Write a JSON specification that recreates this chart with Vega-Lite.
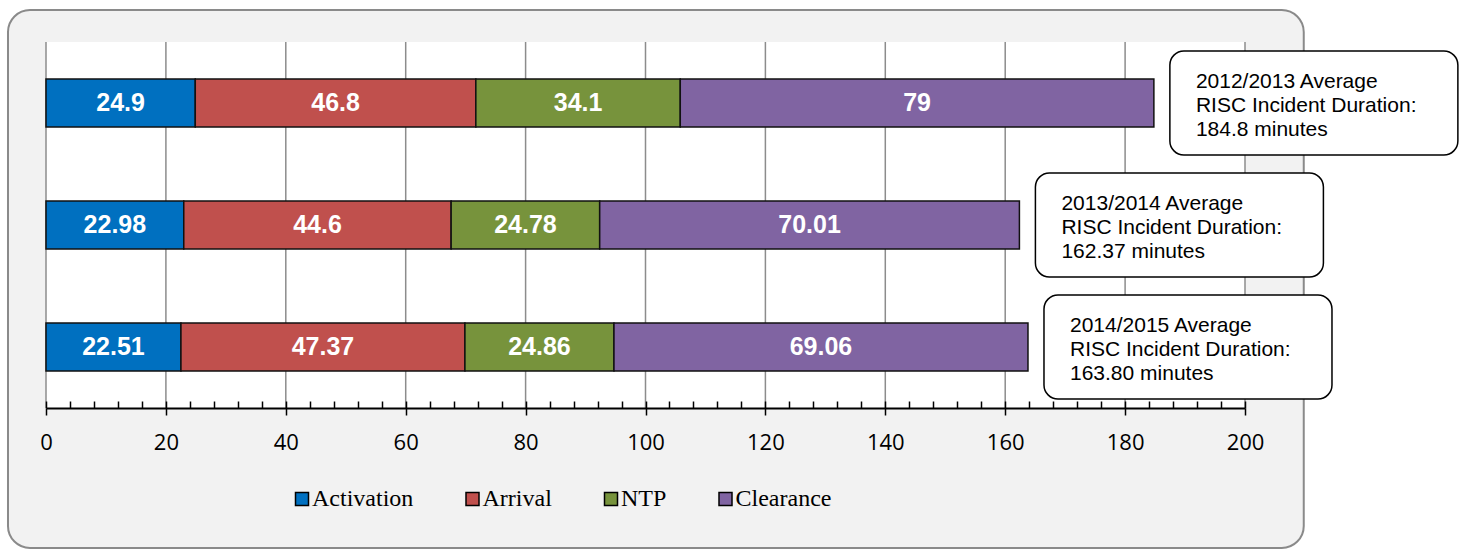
{
  "$schema": "https://vega.github.io/schema/vega-lite/v6.json",
  "width": 1199,
  "height": 366,
  "autosize": {"type": "none"},
  "padding": {"left": 46, "top": 42, "right": 215, "bottom": 142},
  "background": "white",
  "config": {"view": {"stroke": null}},
  "datasets": {
    "segments": [
      {"period": "2012/2013", "phase": "Activation", "step": 1, "value": 24.9},
      {"period": "2012/2013", "phase": "Arrival", "step": 2, "value": 46.8},
      {"period": "2012/2013", "phase": "NTP", "step": 3, "value": 34.1},
      {"period": "2012/2013", "phase": "Clearance", "step": 4, "value": 79},
      {"period": "2013/2014", "phase": "Activation", "step": 1, "value": 22.98},
      {"period": "2013/2014", "phase": "Arrival", "step": 2, "value": 44.6},
      {"period": "2013/2014", "phase": "NTP", "step": 3, "value": 24.78},
      {"period": "2013/2014", "phase": "Clearance", "step": 4, "value": 70.01},
      {"period": "2014/2015", "phase": "Activation", "step": 1, "value": 22.51},
      {"period": "2014/2015", "phase": "Arrival", "step": 2, "value": 47.37},
      {"period": "2014/2015", "phase": "NTP", "step": 3, "value": 24.86},
      {"period": "2014/2015", "phase": "Clearance", "step": 4, "value": 69.06}
    ],
    "totals": [
      {"period": "2012/2013", "total": 184.8, "label": ["2012/2013 Average", "RISC Incident Duration:", "184.8 minutes"]},
      {"period": "2013/2014", "total": 162.37, "label": ["2013/2014 Average", "RISC Incident Duration:", "162.37 minutes"]},
      {"period": "2014/2015", "total": 163.8, "label": ["2014/2015 Average", "RISC Incident Duration:", "163.80 minutes"]}
    ],
    "grid": [
      {"v": 0}, {"v": 20}, {"v": 40}, {"v": 60}, {"v": 80}, {"v": 100},
      {"v": 120}, {"v": 140}, {"v": 160}, {"v": 180}, {"v": 200}
    ]
  },
  "resolve": {"scale": {"y": "independent"}, "axis": {"x": "independent"}},
  "layer": [
    {
      "data": {"values": [{}]},
      "mark": {"type": "rect", "fill": "#f2f2f2", "stroke": "#8a8a8a", "strokeWidth": 2, "cornerRadius": 22},
      "encoding": {
        "x": {"datum": -6.34, "type": "quantitative", "axis": null, "scale": {"domain": [0, 200], "nice": false}},
        "x2": {"datum": 209.8},
        "y": {"datum": 1.0874, "type": "quantitative", "axis": null, "scale": {"domain": [0, 1], "nice": false, "zero": false}},
        "y2": {"datum": -0.3825}
      }
    },
    {
      "data": {"values": [{}]},
      "mark": {"type": "rect", "fill": "white"},
      "encoding": {
        "x": {"datum": 0, "type": "quantitative", "axis": null},
        "x2": {"datum": 200}
      }
    },
    {
      "data": {"name": "grid"},
      "mark": {"type": "rule", "color": "#8c8c8c", "strokeWidth": 1.5},
      "encoding": {
        "x": {
          "field": "v", "type": "quantitative",
          "axis": {
            "orient": "bottom", "offset": -7, "domain": false, "labels": false, "grid": false, "title": null,
            "values": [0,4,8,12,16,20,24,28,32,36,40,44,48,52,56,60,64,68,72,76,80,84,88,92,96,100,104,108,112,116,120,124,128,132,136,140,144,148,152,156,160,164,168,172,176,180,184,188,192,196,200],
            "ticks": true, "tickSize": 7, "tickColor": "black", "tickWidth": 1.5, "zindex": 1
          }
        }
      }
    },
    {
      "data": {"name": "segments"},
      "mark": {"type": "bar", "stroke": "#111111", "strokeWidth": 1.5},
      "encoding": {
        "y": {"field": "period", "type": "nominal", "sort": null, "axis": null, "scale": {"paddingInner": 0.607, "paddingOuter": 0.3035}},
        "x": {
          "field": "value", "type": "quantitative", "stack": "zero",
          "scale": {"domain": [0, 200], "nice": false},
          "axis": {
            "orient": "bottom", "title": null, "grid": false,
            "values": [0, 20, 40, 60, 80, 100, 120, 140, 160, 180, 200],
            "domain": true, "domainColor": "black", "domainWidth": 2,
            "ticks": true, "tickColor": "black", "tickWidth": 1.5, "tickSize": 7,
            "labelFont": "Open Sans", "labelFontSize": 22, "labelColor": "black", "labelPadding": 17,
            "labelFlush": false, "labelOverlap": false,
            "zindex": 1
          }
        },
        "color": {
          "field": "phase", "type": "nominal",
          "sort": ["Activation", "Arrival", "NTP", "Clearance"],
          "scale": {"domain": ["Activation", "Arrival", "NTP", "Clearance"], "range": ["#0070C0", "#C0504D", "#77933C", "#8064A2"]},
          "legend": {
            "orient": "none", "legendX": 244, "legendY": 445, "direction": "horizontal", "title": null,
            "symbolType": "square", "symbolSize": 169, "symbolStrokeColor": "black", "symbolStrokeWidth": 1.5, "symbolOpacity": 1,
            "labelFont": "Liberation Serif", "labelFontSize": 24, "labelColor": "black", "labelOffset": -2,
            "columnPadding": 46.5, "padding": 0, "zindex": 1
          }
        },
        "order": {"field": "step", "type": "quantitative"}
      }
    },
    {
      "data": {"name": "segments"},
      "mark": {"type": "text", "color": "white", "font": "Liberation Sans", "fontWeight": "bold", "fontSize": 25, "align": "center", "baseline": "middle"},
      "encoding": {
        "y": {"field": "period", "type": "nominal", "sort": null, "axis": null, "scale": {"paddingInner": 0.607, "paddingOuter": 0.3035}},
        "x": {"field": "value", "type": "quantitative", "stack": "zero", "bandPosition": 0.5, "axis": null},
        "detail": {"field": "phase", "type": "nominal"},
        "order": {"field": "step", "type": "quantitative"},
        "text": {"field": "value", "type": "quantitative"}
      }
    },
    {
      "data": {"name": "totals"},
      "mark": {"type": "rect", "fill": "white", "stroke": "black", "strokeWidth": 1.5, "cornerRadius": 14, "xOffset": 16, "x2Offset": 304},
      "encoding": {
        "y": {"field": "period", "type": "nominal", "sort": null, "axis": null, "scale": {"paddingInner": 0.148, "paddingOuter": 0.074}},
        "x": {"field": "total", "type": "quantitative", "axis": null},
        "x2": {"field": "total"}
      }
    },
    {
      "data": {"name": "totals"},
      "mark": {"type": "text", "color": "black", "font": "Liberation Sans", "fontSize": 21, "lineHeight": 24, "align": "left", "baseline": "middle", "dx": 42, "dy": -21},
      "encoding": {
        "y": {"field": "period", "type": "nominal", "sort": null, "axis": null, "scale": {"paddingInner": 0.148, "paddingOuter": 0.074}},
        "x": {"field": "total", "type": "quantitative", "axis": null},
        "text": {"field": "label", "type": "nominal"}
      }
    }
  ]
}
